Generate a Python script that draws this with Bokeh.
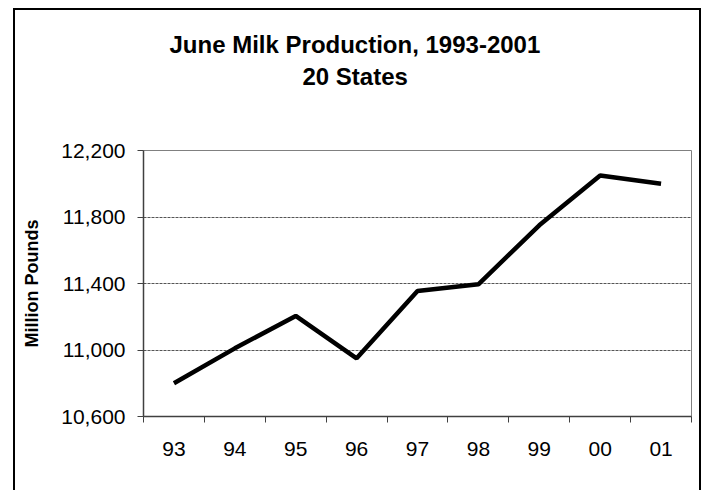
from bokeh.plotting import figure
from bokeh.models import Range1d, FixedTicker, NumeralTickFormatter, Title
from bokeh.embed import file_html
from bokeh.resources import INLINE

# ---- data ----
categories = ["93", "94", "95", "96", "97", "98", "99", "00", "01"]
production = [10800, 11010, 11205, 10950, 11355, 11395, 11750, 12050, 12000]
y_ticks = [10600, 11000, 11400, 11800, 12200]
title_line1 = "June Milk Production, 1993-2001"
title_line2 = "20 States"
y_label = "Million Pounds"

n = len(categories)
xs = [i + 0.5 for i in range(n)]
boundaries = list(range(n + 1))

p = figure(width=688, height=482, output_backend="svg", toolbar_location=None,
           x_range=Range1d(0, n), y_range=Range1d(y_ticks[0], y_ticks[-1]),
           min_border_left=128, min_border_right=12, min_border_top=140,
           min_border_bottom=76, title=None)
p.margin = (8, 0, 0, 13)
p.styles = {"border-top": "2px solid black", "border-left": "2px solid black",
            "border-right": "2px solid black", "box-sizing": "border-box"}

p.background_fill_color = "white"
p.border_fill_color = "white"
p.outline_line_color = "#808080"
p.outline_line_width = 1

# titles (stacked outward from the plot frame)
title_font = dict(text_font="Liberation Sans", text_font_style="bold",
                  text_font_size="24px", text_color="black")
spacer = Title(text=" ", text_font_size="1px", standoff=58)
t2 = Title(text=title_line2, align="left", offset=159, standoff=0, **title_font)
t1 = Title(text=title_line1, align="left", offset=26, standoff=6, **title_font)
p.add_layout(spacer, "above")
p.add_layout(t2, "above")
p.add_layout(t1, "above")

# line
p.line(xs, production, line_color="black", line_width=4.5)

# x axis
xa = p.xaxis[0]
xa.ticker = FixedTicker(ticks=xs, minor_ticks=boundaries)
xa.major_label_overrides = {x: c for x, c in zip(xs, categories)}
xa.major_tick_out = 0
xa.major_tick_in = 0
xa.minor_tick_out = 6
xa.minor_tick_in = 0
xa.minor_tick_line_color = "#404040"
xa.axis_line_color = "#404040"
xa.axis_line_width = 1.5
xa.major_label_text_font = "Liberation Sans"
xa.major_label_text_font_size = "21px"
xa.major_label_text_color = "black"
xa.major_label_standoff = 19

# y axis
ya = p.yaxis[0]
ya.ticker = FixedTicker(ticks=y_ticks)
ya.formatter = NumeralTickFormatter(format="0,0")
ya.major_tick_out = 6
ya.major_tick_in = 0
ya.minor_tick_line_color = None
ya.major_tick_line_color = "#404040"
ya.axis_line_color = "#404040"
ya.axis_line_width = 1.5
ya.major_label_text_font = "Liberation Sans"
ya.major_label_text_font_size = "21px"
ya.major_label_text_color = "black"
ya.major_label_standoff = 12
ya.axis_label = y_label
ya.axis_label_text_font = "Liberation Sans"
ya.axis_label_text_font_style = "bold"
ya.axis_label_text_font_size = "18px"
ya.axis_label_text_color = "black"
ya.axis_label_standoff = 16

# grid
p.xgrid.visible = False
p.ygrid.grid_line_color = "#555555"
p.ygrid.grid_line_dash = "3 1"
p.ygrid.grid_line_width = 1

open("out.html", "w").write(file_html(p, INLINE))
